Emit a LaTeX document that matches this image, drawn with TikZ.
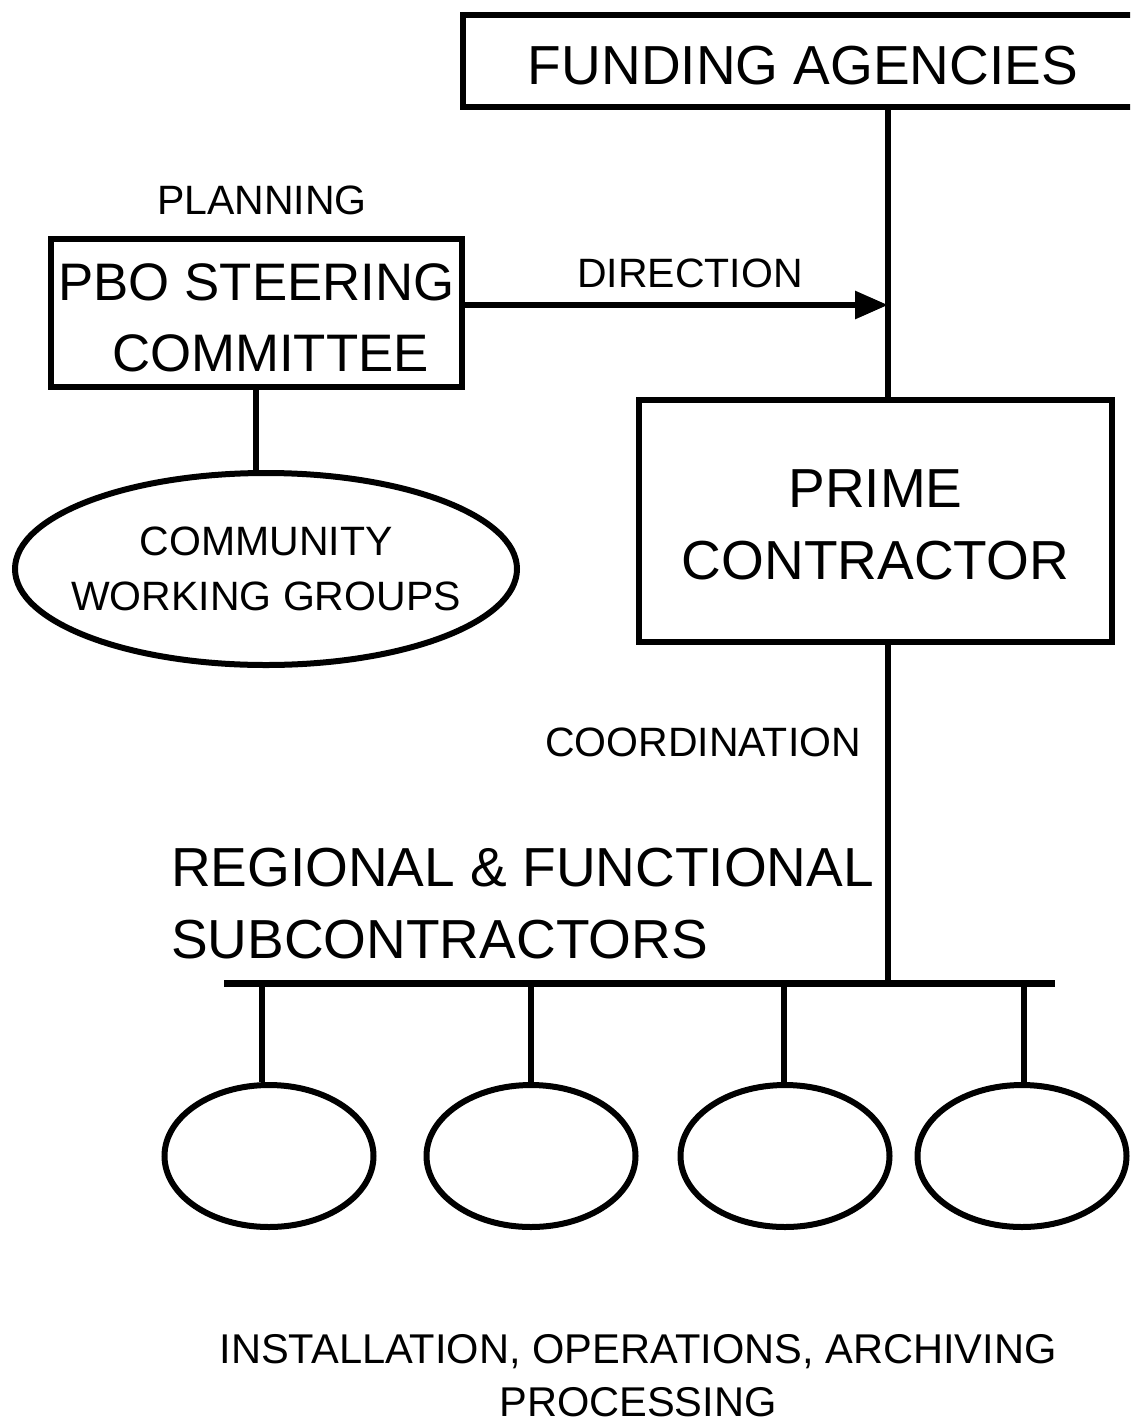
\documentclass[tikz,border=0pt]{standalone}
\usepackage{fontspec}
\setmainfont{Liberation Sans}
\usetikzlibrary{shapes.geometric,arrows.meta}

\begin{document}
\begin{tikzpicture}[x=0.5pt,y=-0.5pt,line width=3pt]
        % Define block styles
        \tikzstyle{block} = [rectangle, draw, align=center, inner sep=0pt, font=\fontsize{27.5}{36}\selectfont]
        \tikzstyle{group} = [ellipse, draw, align=center, inner xsep=-12pt, inner ysep=0pt, font=\fontsize{20.5}{27.5}\selectfont]
        \tikzstyle{tag} = [align=center, inner sep=0pt, font=\fontsize{20.5}{27}\selectfont]
        \tikzstyle{line} = [draw]
        \tikzstyle{arrow} = [draw, -{Triangle[length=16.5pt,width=13.5pt]}]

        \useasboundingbox (0,0) rectangle (1130,1424);
        \clip (0,0) rectangle (1130,1424);

        % Nodes
        \node [block, minimum width=340pt, minimum height=46pt] (funding) at (803,61) {\rule{0pt}{24pt}FUNDING AGENCIES};
        \node [block, minimum width=205.5pt, minimum height=74pt, font=\fontsize{26.4}{35.5}\selectfont] (pbo) at (256.5,313) {\rule{0pt}{23.5pt}PBO STEERING\\\hspace*{14pt}COMMITTEE};
        \node [tag] (planning) at (262,200) {PLANNING};
        \node [group, minimum width=251pt, minimum height=96pt] (cwg) at (266,569) {COMMUNITY\\WORKING GROUPS};
        \node [block, minimum width=236.5pt, minimum height=121pt] (prime) at (875.5,521) {\rule{0pt}{23pt}PRIME\\CONTRACTOR};
        \node [tag] (direction) at (690,273) {DIRECTION};
        \node [tag] (coord) at (703,742) {COORDINATION};
        \node [block, draw=none, anchor=west, align=left] (subs) at (168,904) {REGIONAL \& FUNCTIONAL\\SUBCONTRACTORS};
        \node [tag, font=\fontsize{20.8}{26.5}\selectfont] (tasks) at (638,1376) {INSTALLATION, OPERATIONS, ARCHIVING\\PROCESSING};

        \coordinate (jn) at (888,305);
        \coordinate (busL) at (224,983);
        \coordinate (busR) at (1055,983);

        % Arrows
        \path [line] (funding.south -| jn) -- (prime.north -| jn);
        \path [arrow] (pbo.east |- jn) -- (jn);
        \path [line] (pbo.south -| 256,0) -- (cwg.north -| 256,0);
        \path [line] (prime.south -| jn) -- (busL -| jn);
        \path [line, line width=3.5pt] (busL) -- (busR);

        % Subcontractor groups
        \foreach \i/\x/\d in {1/269/262, 2/531/531, 3/785/784, 4/1022/1024} {
            \node [group, minimum width=104.5pt, minimum height=71pt] (sub\i) at (\x,1156) {};
            \path [line] (\d,983) -- (sub\i.north -| \d,0);
        }

    \end{tikzpicture}
\end{document}
